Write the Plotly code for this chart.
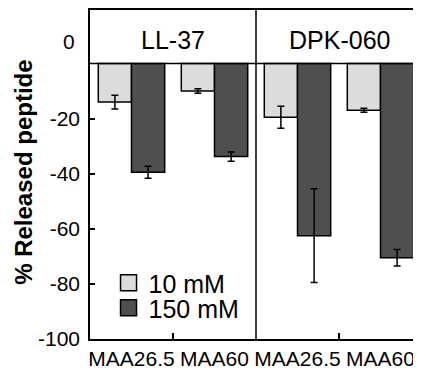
import plotly.graph_objects as go

# ---- data ----
categories = ["MAA26.5", "MAA60", "MAA26.5", "MAA60"]
panels = ["LL-37", "DPK-060"]
series_names = ["10 mM", "150 mM"]
low_salt = [-14.0, -10.0, -19.5, -17.0]
low_salt_err = [2.5, 0.8, 4.0, 0.7]
high_salt = [-39.5, -33.8, -62.5, -70.5]
high_salt_err = [2.2, 1.7, 17.0, 3.0]
y_tick_vals = [-100, -80, -60, -40, -20]
y_tick_text = [str(v) for v in y_tick_vals]

FONT = "Liberation Sans, Arial, sans-serif"
LIGHT = "#dcdcdc"
DARK = "#4f4f4f"
colors = [LIGHT, DARK]

xpos = list(range(len(categories)))

fig = go.Figure()
for vals, errs, col in [(low_salt, low_salt_err, LIGHT), (high_salt, high_salt_err, DARK)]:
    fig.add_trace(go.Bar(
        x=xpos, y=vals, showlegend=False,
        marker=dict(color=col, line=dict(color="black", width=1.5)),
        error_y=dict(type="data", array=errs, visible=True,
                     color="black", thickness=1.5, width=3.5),
    ))

# legend swatches (one legend per series)
for i, (name, col) in enumerate(zip(series_names, colors)):
    fig.add_trace(go.Scatter(
        x=[None], y=[None], mode="markers", name=name,
        marker=dict(symbol="square", size=16, color=col,
                    line=dict(color="black", width=1.5)),
        legend="legend" if i == 0 else "legend2",
    ))

XR = [-0.5, 3.488]
YR = [-100, 19.4]

legend_common = dict(xanchor="left", yanchor="middle", itemsizing="trace",
                     font=dict(size=25, family=FONT, color="black"),
                     bgcolor="rgba(0,0,0,0)", itemclick=False)

fig.update_layout(
    width=413, height=360,
    margin=dict(l=82, r=0, t=2, b=29, autoexpand=False),
    paper_bgcolor="white", plot_bgcolor="white",
    barmode="group", bargap=0.2, bargroupgap=0,
    font=dict(family=FONT, color="black"),
    xaxis=dict(
        range=XR, tickvals=xpos, ticktext=categories, ticks="",
        tickfont=dict(size=21, family=FONT, color="black"),
        showline=True, linecolor="black", linewidth=1.5, mirror=True,
        showgrid=False, zeroline=False, ticklabelstandoff=0, automargin=False,
        minor=dict(tickvals=[0.5, 2.5], ticks="inside", ticklen=6,
                   tickwidth=1.5, tickcolor="black", showgrid=False),
    ),
    yaxis=dict(
        range=YR, tickvals=y_tick_vals, ticktext=y_tick_text,
        ticks="inside", ticklen=5, tickwidth=1.5, tickcolor="black",
        tickfont=dict(size=21, family=FONT, color="black"),
        showline=True, linecolor="black", linewidth=1.5, mirror=False,
        showgrid=False, zeroline=False, ticklabelstandoff=4, automargin=False,
    ),
    yaxis2=dict(
        range=YR, overlaying="y", side="right", anchor="x",
        tickvals=y_tick_vals[1:], ticks="inside", ticklen=5,
        tickwidth=1.5, tickcolor="black", showticklabels=False,
        showline=False, showgrid=False, zeroline=False, automargin=False,
    ),
    legend=dict(x=0.056, y=0.17, **legend_common),
    legend2=dict(x=0.056, y=0.094, **legend_common),
    showlegend=True,
)

# divider lines
fig.add_shape(type="line", xref="paper", yref="y", x0=0, x1=1, y0=0, y1=0,
              line=dict(color="black", width=1.5), layer="above")
fig.add_shape(type="line", xref="x", yref="paper", x0=1.5, x1=1.5, y0=0, y1=1,
              line=dict(color="black", width=1.5), layer="above")

# panel labels
for i, p in enumerate(panels):
    fig.add_annotation(x=2 * i + 0.5, y=8.5, xref="x", yref="y", text=p,
                       showarrow=False, font=dict(size=25, family=FONT, color="black"),
                       xanchor="center", yanchor="middle")

# "0" label in header
fig.add_annotation(x=0, y=8.0, xref="paper", yref="y", text="0", showarrow=False,
                   xanchor="right", yanchor="middle", xshift=-13,
                   font=dict(size=21, family=FONT, color="black"))

# y-axis title
fig.add_annotation(x=(24 - 90) / 331, y=0.505, xref="paper", yref="paper",
                   text="<b>% Released peptide</b>", textangle=-90, showarrow=False,
                   xanchor="center", yanchor="middle",
                   font=dict(size=24, family=FONT, color="black"))

fig.write_html("out.html")
